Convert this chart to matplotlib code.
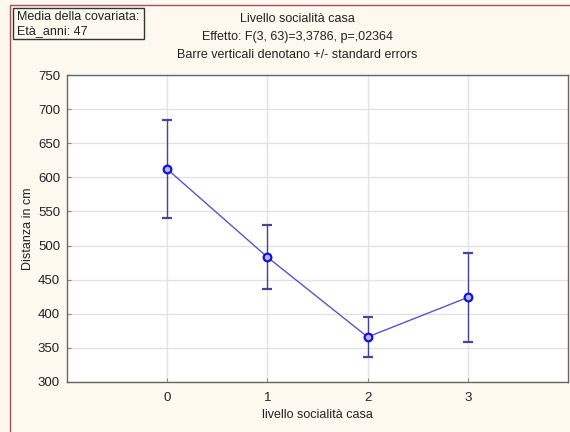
import matplotlib as mpl
import matplotlib.pyplot as plt
from matplotlib.patches import Rectangle

mpl.use("Agg")

IMAGE_DPI = 100.0
WIDTH, HEIGHT = 570, 432

# livello socialità casa -> distanza media (cm) con errore standard
levels = [0, 1, 2, 3]
means = [612, 483, 366, 424]
std_errors = [72, 47, 29, 65]

y_ticks = [300, 350, 400, 450, 500, 550, 600, 650, 700, 750]

BG_COLOR = "#FDF9EE"
FRAME_COLOR = "#A5505F"
TEXT_COLOR = "#222222"
FONT_SIZE = 9

plt.rcParams["font.family"] = ["Liberation Sans", "DejaVu Sans"]

fig = plt.figure(facecolor=BG_COLOR)
fig.set_size_inches(WIDTH / IMAGE_DPI, HEIGHT / IMAGE_DPI)


def px(x, y):
    # pixel coordinates (origin top-left) -> figure fraction
    return x / WIDTH, 1 - y / HEIGHT


# outer frame of the graph window (only left and top edges fall inside)
fig.add_artist(
    Rectangle(px(10.5, 440), (WIDTH + 20) / WIDTH, 435 / HEIGHT,
              transform=fig.transFigure, facecolor="none",
              edgecolor=FRAME_COLOR, linewidth=1.0)
)

left, top = px(67, 75)
right, bottom = px(568, 382)
ax = fig.add_axes([left, bottom, right - left, top - bottom])
ax.set_facecolor("white")

ax.errorbar(
    levels, means, yerr=std_errors,
    color="#5555CC", linewidth=1.0,
    ecolor="#45459A", elinewidth=1.0, capsize=3.8, capthick=1.0,
    marker="o", markersize=5.5, markerfacecolor="#B8B8FF",
    markeredgecolor="#1010E0", markeredgewidth=1.6, zorder=3,
)

ax.set_xlim(-1, 4)
ax.set_ylim(300, 750)
ax.set_xticks(levels)
ax.set_yticks(y_ticks)
ax.grid(True, color="#E2E2E2", linewidth=1.0, zorder=0)
ax.set_axisbelow(True)
for spine in ax.spines.values():
    spine.set_color("#666666")
    spine.set_linewidth(1.0)
ax.tick_params(colors="#888888", labelcolor=TEXT_COLOR, labelsize=9.5,
               length=3, direction="in")
ax.tick_params(axis="x", pad=7)
ax.tick_params(axis="y", pad=5)

ax.set_xlabel("livello socialità casa", fontsize=FONT_SIZE, color=TEXT_COLOR, labelpad=4)
ax.set_ylabel("Distanza in cm", fontsize=FONT_SIZE, color=TEXT_COLOR, labelpad=3)

# three-line header
cx = 297 / WIDTH
for y, line in [(19, "Livello socialità casa"),
                (37, "Effetto: F(3, 63)=3,3786, p=,02364"),
                (55, "Barre verticali denotano +/- standard errors")]:
    fig.text(cx, 1 - y / HEIGHT, line, ha="center", va="center",
             fontsize=FONT_SIZE, color=TEXT_COLOR)

# covariate box
bx, by = px(13, 39)
fig.add_artist(
    Rectangle((bx, by), 131 / WIDTH, 31 / HEIGHT, transform=fig.transFigure,
              facecolor="none", edgecolor="#333333", linewidth=1.0)
)
fig.text(17 / WIDTH, 1 - 17 / HEIGHT, "Media della covariata:",
         ha="left", va="center", fontsize=FONT_SIZE, color=TEXT_COLOR)
fig.text(17 / WIDTH, 1 - 31 / HEIGHT, "Età_anni: 47",
         ha="left", va="center", fontsize=FONT_SIZE, color=TEXT_COLOR)

fig.savefig("out.png", dpi=IMAGE_DPI, facecolor=BG_COLOR)
